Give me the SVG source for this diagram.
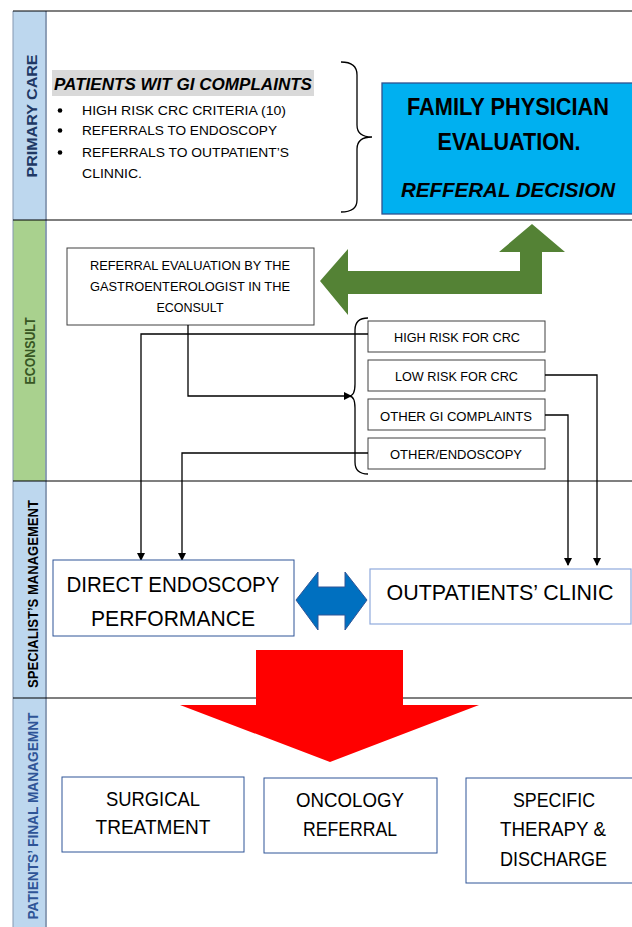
<svg xmlns="http://www.w3.org/2000/svg" width="632" height="927" viewBox="0 0 632 927">
<style>
.t{font-family:"Liberation Sans",Arial,sans-serif;fill:#000}
.lane{font-family:"Liberation Sans",Arial,sans-serif;font-weight:bold;font-size:14px}
.conn{fill:none;stroke:#000;stroke-width:1.3}
.box{fill:#fff;stroke:#404040;stroke-width:1}
.bbox{fill:#fff;stroke:#2F5597;stroke-width:1}
</style>
<defs>
<marker id="ah" markerWidth="8" markerHeight="8" refX="7" refY="4" orient="auto" markerUnits="userSpaceOnUse">
<path d="M0,0 L8,4 L0,8 Z" fill="#000"/>
</marker>
</defs>
<rect width="632" height="927" fill="#fff"/>
<g id="lanes">
<rect x="13" y="11" width="33" height="209" fill="#BDD7EE"/>
<rect x="13" y="220" width="33" height="261" fill="#A9D18E"/>
<rect x="13" y="481" width="33" height="217" fill="#BDD7EE"/>
<rect x="13" y="698" width="33" height="229" fill="#BDD7EE"/>
<line x1="46" y1="11" x2="46" y2="927" stroke="#8497B0" stroke-width="1.8"/>
<line x1="13" y1="11" x2="13" y2="927" stroke="#8497B0" stroke-width="1"/>
<line x1="13" y1="11" x2="632" y2="11" stroke="#000" stroke-width="1.2"/>
<line x1="13" y1="220" x2="632" y2="220" stroke="#000" stroke-width="1.2"/>
<line x1="13" y1="481" x2="632" y2="481" stroke="#000" stroke-width="1.2"/>
<line x1="13" y1="698" x2="632" y2="698" stroke="#000" stroke-width="1.2"/>
<text class="lane" transform="translate(37,116) rotate(-90)" text-anchor="middle" fill="#203864" textLength="123" lengthAdjust="spacingAndGlyphs">PRIMARY CARE</text>
<text class="lane" transform="translate(35,351) rotate(-90)" text-anchor="middle" fill="#385723" font-size="12" textLength="67" lengthAdjust="spacingAndGlyphs">ECONSULT</text>
<text class="lane" transform="translate(38,594) rotate(-90)" text-anchor="middle" fill="#000" textLength="188" lengthAdjust="spacingAndGlyphs">SPECIALIST’S MANAGEMENT</text>
<text class="lane" transform="translate(38,816) rotate(-90)" text-anchor="middle" fill="#2F5597" textLength="207" lengthAdjust="spacingAndGlyphs">PATIENTS’ FINAL MANAGEMNT</text>
</g>
<g id="patients">
<rect x="52" y="70" width="262" height="26" fill="#D9D9D9"/>
<text class="t" x="54" y="90" font-size="16.5" font-weight="bold" font-style="italic" textLength="258" lengthAdjust="spacingAndGlyphs">PATIENTS WIT GI COMPLAINTS</text>
<g font-size="13">
<circle cx="60" cy="110.5" r="2.3" fill="#000"/>
<circle cx="60" cy="130.5" r="2.3" fill="#000"/>
<circle cx="60" cy="152.5" r="2.3" fill="#000"/>
<text class="t" x="82" y="115" textLength="204" lengthAdjust="spacingAndGlyphs">HIGH RISK CRC CRITERIA (10)</text>
<text class="t" x="82" y="135" textLength="195" lengthAdjust="spacingAndGlyphs">REFERRALS TO ENDOSCOPY</text>
<text class="t" x="82" y="157" textLength="207" lengthAdjust="spacingAndGlyphs">REFERRALS TO OUTPATIENT’S</text>
<text class="t" x="82" y="178" textLength="60" lengthAdjust="spacingAndGlyphs">CLINNIC.</text>
</g>
<path d="M341,62 Q357,62 357,75 L357,125 Q357,137 372,137 Q357,137 357,149 L357,200 Q357,212 341,212" fill="none" stroke="#000" stroke-width="1.3"/>
</g>
<g id="family">
<rect x="382" y="83" width="252" height="131" fill="#00B0F0" stroke="#2F528F" stroke-width="1.3"/>
<text class="t" x="508" y="115" font-size="23" font-weight="bold" text-anchor="middle" textLength="202" lengthAdjust="spacingAndGlyphs">FAMILY PHYSICIAN</text>
<text class="t" x="509" y="150" font-size="23" font-weight="bold" text-anchor="middle" textLength="143" lengthAdjust="spacingAndGlyphs">EVALUATION.</text>
<text class="t" x="508" y="197" font-size="21" font-weight="bold" font-style="italic" text-anchor="middle" textLength="214" lengthAdjust="spacingAndGlyphs">REFFERAL DECISION</text>
</g>
<g id="econsult">
<rect class="box" x="67" y="248" width="247" height="77"/>
<g font-size="13" text-anchor="middle">
<text class="t" x="190" y="270" textLength="200" lengthAdjust="spacingAndGlyphs">REFERRAL EVALUATION BY THE</text>
<text class="t" x="190" y="291" textLength="200" lengthAdjust="spacingAndGlyphs">GASTROENTEROLOGIST IN THE</text>
<text class="t" x="190" y="312" textLength="67" lengthAdjust="spacingAndGlyphs">ECONSULT</text>
</g>
</g>
<g id="green-arrow">
<polygon points="320,281 348,249 348,271 520,271 520,252 499,252 532,224 565,252 542,252 542,294 348,294 348,315" fill="#548235"/>
</g>
<g id="brace2">
<path d="M368,318 Q355,318 355,330 L355,384 Q355,396 349,396 Q355,396 355,408 L355,462 Q355,474 368,474" fill="none" stroke="#000" stroke-width="1.3"/>
</g>
<g id="high-risk">
<rect class="box" x="368" y="321" width="177" height="31"/>
<text class="t" x="457" y="342" font-size="13" text-anchor="middle" textLength="126" lengthAdjust="spacingAndGlyphs">HIGH RISK FOR CRC</text>
</g>
<g id="low-risk">
<rect class="box" x="368" y="360" width="177" height="31"/>
<text class="t" x="456.5" y="381" font-size="13" text-anchor="middle" textLength="123" lengthAdjust="spacingAndGlyphs">LOW RISK FOR CRC</text>
</g>
<g id="other-gi">
<rect class="box" x="368" y="399" width="177" height="31"/>
<text class="t" x="456" y="421" font-size="13" text-anchor="middle" textLength="152" lengthAdjust="spacingAndGlyphs">OTHER GI COMPLAINTS</text>
</g>
<g id="other-endo">
<rect class="box" x="368" y="438" width="177" height="31"/>
<text class="t" x="456" y="459" font-size="13" text-anchor="middle" textLength="132" lengthAdjust="spacingAndGlyphs">OTHER/ENDOSCOPY</text>
</g>
<g id="connectors">
<path class="conn" d="M188,325 L188,396 L351,396" marker-end="url(#ah)"/>
<path class="conn" d="M368,334 L141,334 L141,560" marker-end="url(#ah)"/>
<path class="conn" d="M368,453 L182,453 L182,560" marker-end="url(#ah)"/>
<path class="conn" d="M545,375 L597,375 L597,565" marker-end="url(#ah)"/>
<path class="conn" d="M545,415 L568,415 L568,565" marker-end="url(#ah)"/>
</g>
<g id="direct-endoscopy">
<rect class="bbox" x="53" y="560" width="241" height="76"/>
<text class="t" x="173" y="592" font-size="22" text-anchor="middle" textLength="213" lengthAdjust="spacingAndGlyphs">DIRECT ENDOSCOPY</text>
<text class="t" x="173" y="625.5" font-size="22" text-anchor="middle" textLength="164" lengthAdjust="spacingAndGlyphs">PERFORMANCE</text>
</g>
<g id="outpatients">
<rect x="370" y="569" width="261" height="55" fill="#fff" stroke="#8FAADC" stroke-width="1.2"/>
<text class="t" x="500" y="600" font-size="22" text-anchor="middle" textLength="227" lengthAdjust="spacingAndGlyphs">OUTPATIENTS’ CLINIC</text>
</g>
<g id="blue-arrow">
<polygon points="296,600 318,572 318,587 345,587 345,572 367,600 345,630 345,615 318,615 318,630" fill="#0070C0" stroke="#2F5597" stroke-width="1"/>
</g>
<g id="red-arrow">
<polygon points="256,650 403,650 403,705 479,705 330,762 180,705 256,705" fill="#FF0000"/>
</g>
<g id="surgical">
<rect class="bbox" x="62" y="777" width="182" height="75"/>
<text class="t" x="153" y="805.5" font-size="21" text-anchor="middle" textLength="94" lengthAdjust="spacingAndGlyphs">SURGICAL</text>
<text class="t" x="153" y="834" font-size="21" text-anchor="middle" textLength="115" lengthAdjust="spacingAndGlyphs">TREATMENT</text>
</g>
<g id="oncology">
<rect class="bbox" x="264" y="778" width="173" height="75"/>
<text class="t" x="350" y="806.5" font-size="21" text-anchor="middle" textLength="108" lengthAdjust="spacingAndGlyphs">ONCOLOGY</text>
<text class="t" x="350" y="835.5" font-size="21" text-anchor="middle" textLength="94" lengthAdjust="spacingAndGlyphs">REFERRAL</text>
</g>
<g id="specific">
<rect class="bbox" x="466" y="778" width="170" height="105"/>
<text class="t" x="554" y="806.5" font-size="21" text-anchor="middle" textLength="82" lengthAdjust="spacingAndGlyphs">SPECIFIC</text>
<text class="t" x="553" y="835.5" font-size="21" text-anchor="middle" textLength="106" lengthAdjust="spacingAndGlyphs">THERAPY &amp;</text>
<text class="t" x="553.5" y="866" font-size="21" text-anchor="middle" textLength="107" lengthAdjust="spacingAndGlyphs">DISCHARGE</text>
</g>
</svg>
